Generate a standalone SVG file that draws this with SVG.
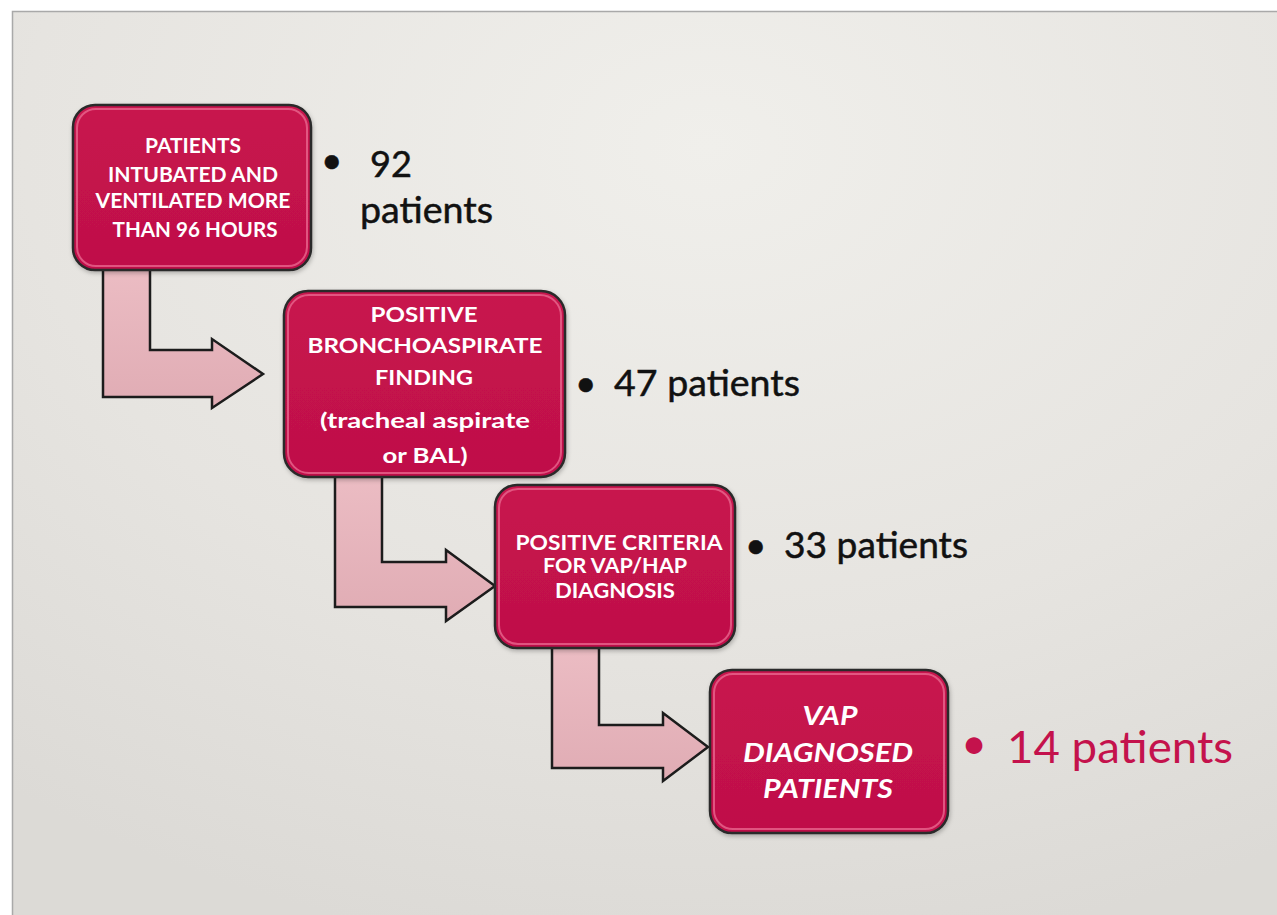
<svg xmlns="http://www.w3.org/2000/svg" width="1277" height="915" viewBox="0 0 1277 915">
  <defs>
    <radialGradient id="bg" cx="0.55" cy="0.15" r="0.9">
      <stop offset="0" stop-color="#f0efeb"/>
      <stop offset="0.6" stop-color="#e6e4e0"/>
      <stop offset="1" stop-color="#dcdad6"/>
    </radialGradient>
    <linearGradient id="boxFill" x1="0" y1="0" x2="0" y2="1">
      <stop offset="0" stop-color="#c8144e"/>
      <stop offset="1" stop-color="#bf1049"/>
    </linearGradient>
    <linearGradient id="arrowFill" x1="0" y1="0" x2="0" y2="1">
      <stop offset="0" stop-color="#ecbdc4"/>
      <stop offset="1" stop-color="#e0acb4"/>
    </linearGradient>
    <filter id="shadow" x="-10%" y="-10%" width="130%" height="130%">
      <feDropShadow dx="1" dy="2" stdDeviation="2" flood-color="#000" flood-opacity="0.25"/>
    </filter>
  </defs>
  <style>
    .box { fill: url(#boxFill); stroke: #2a2a2a; stroke-width: 2.5; }
    .gloss { fill: none; stroke: #e8668e; stroke-width: 2; opacity: 0.8; }
    .arrow { fill: url(#arrowFill); stroke: #1c1c1c; stroke-width: 2.5; stroke-linejoin: miter; }
    .bt { font-family: Lato, "Open Sans", sans-serif; font-weight: 700; fill: #ffffff; text-anchor: middle; font-size: 21px; }
    .bti { font-family: Lato, "Open Sans", sans-serif; font-weight: 700; font-style: italic; fill: #ffffff; text-anchor: middle; font-size: 27px; }
    .lbl { font-family: Lato, "Open Sans", sans-serif; font-weight: 400; fill: #111111; stroke: #111111; stroke-width: 0.5; font-size: 37px; }
    .lblr { font-family: Lato, "Open Sans", sans-serif; font-weight: 400; fill: #c4124c; font-size: 45px; }
  </style>

  <rect x="0" y="0" width="1277" height="915" fill="#ffffff"/>
  <rect x="12" y="11" width="1265" height="904" fill="url(#bg)"/>
  <path d="M12.5,915 L12.5,11.5 L1277,11.5" fill="none" stroke="#a9a9a9" stroke-width="1.5"/>

  <g id="connectors">
    <path class="arrow" d="M103,262 L150,262 L150,350 L212,350 L212,339 L263,374 L212,408 L212,397 L103,397 Z"/>
    <path class="arrow" d="M335,470 L382,470 L382,562 L446,562 L446,550 L495,586 L446,621 L446,607 L335,607 Z"/>
    <path class="arrow" d="M552,642 L599,642 L599,725 L663,725 L663,713 L708,747 L663,781 L663,768 L552,768 Z"/>
  </g>

  <g id="node1">
    <rect class="box" x="73" y="105" width="238" height="165" rx="22" filter="url(#shadow)"/>
    <rect class="gloss" x="77" y="109" width="230" height="157" rx="19"/>
    <text class="bt" x="193" y="153" textLength="96" lengthAdjust="spacingAndGlyphs">PATIENTS</text>
    <text class="bt" x="193" y="182" textLength="170" lengthAdjust="spacingAndGlyphs">INTUBATED AND</text>
    <text class="bt" x="193" y="208" textLength="195" lengthAdjust="spacingAndGlyphs">VENTILATED MORE</text>
    <text class="bt" x="195" y="237" textLength="165" lengthAdjust="spacingAndGlyphs">THAN 96 HOURS</text>
  </g>
  <g id="label1">
    <text class="lbl" x="321" y="173">•</text>
    <text class="lbl" x="370" y="177" textLength="42" lengthAdjust="spacingAndGlyphs">92</text>
    <text class="lbl" x="360" y="223" textLength="133" lengthAdjust="spacingAndGlyphs">patients</text>
  </g>

  <g id="node2">
    <rect class="box" x="284" y="291" width="281" height="186" rx="24" filter="url(#shadow)"/>
    <rect class="gloss" x="288" y="295" width="273" height="178" rx="21"/>
    <text class="bt" x="424" y="322" textLength="107" lengthAdjust="spacingAndGlyphs">POSITIVE</text>
    <text class="bt" x="425" y="353" textLength="235" lengthAdjust="spacingAndGlyphs">BRONCHOASPIRATE</text>
    <text class="bt" x="424" y="385" textLength="98" lengthAdjust="spacingAndGlyphs">FINDING</text>
    <text class="bt" x="425" y="428" textLength="210" lengthAdjust="spacingAndGlyphs">(tracheal aspirate</text>
    <text class="bt" x="425" y="463" textLength="85" lengthAdjust="spacingAndGlyphs">or BAL)</text>
  </g>
  <g id="label2">
    <text class="lbl" x="575" y="396">•</text>
    <text class="lbl" x="614" y="396" textLength="186" lengthAdjust="spacingAndGlyphs">47 patients</text>
  </g>

  <g id="node3">
    <rect class="box" x="495" y="485" width="240" height="163" rx="22" filter="url(#shadow)"/>
    <rect class="gloss" x="499" y="489" width="232" height="155" rx="19"/>
    <text class="bt" x="619" y="550" font-size="19" textLength="207" lengthAdjust="spacingAndGlyphs">POSITIVE CRITERIA</text>
    <text class="bt" x="615" y="573" font-size="19" textLength="144" lengthAdjust="spacingAndGlyphs">FOR VAP/HAP</text>
    <text class="bt" x="615" y="598" font-size="19" textLength="120" lengthAdjust="spacingAndGlyphs">DIAGNOSIS</text>
  </g>
  <g id="label3">
    <text class="lbl" x="745" y="558">•</text>
    <text class="lbl" x="784" y="558" textLength="184" lengthAdjust="spacingAndGlyphs">33 patients</text>
  </g>

  <g id="node4">
    <rect class="box" x="710" y="670" width="238" height="163" rx="22" filter="url(#shadow)"/>
    <rect class="gloss" x="714" y="674" width="230" height="155" rx="19"/>
    <text class="bti" x="830" y="725" textLength="55" lengthAdjust="spacingAndGlyphs">VAP</text>
    <text class="bti" x="828" y="762" textLength="170" lengthAdjust="spacingAndGlyphs">DIAGNOSED</text>
    <text class="bti" x="828" y="798" textLength="130" lengthAdjust="spacingAndGlyphs">PATIENTS</text>
  </g>
  <g id="label4">
    <text class="lblr" x="961" y="759">•</text>
    <text class="lblr" x="1007" y="763" textLength="226" lengthAdjust="spacingAndGlyphs">14 patients</text>
  </g>
</svg>
